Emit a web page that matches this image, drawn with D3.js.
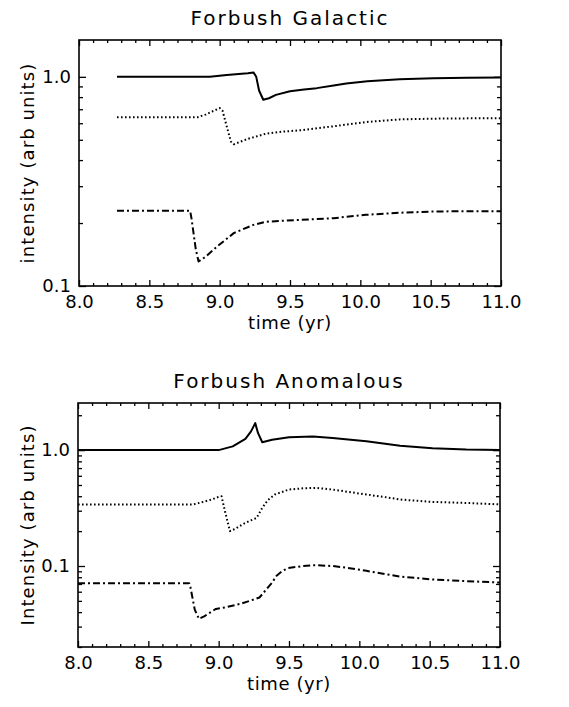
<!DOCTYPE html>
<html><head><meta charset="utf-8">
<script src="https://cdn.jsdelivr.net/npm/d3@7"></script>
<style>
body{margin:0;background:#fff}
text{font-family:"DejaVu Sans",sans-serif;fill:#000}
</style>
</head><body>
<svg id="c" width="569" height="707"></svg>
<script>
// ---- tick labels ----
const xTicks = [8.0, 8.5, 9.0, 9.5, 10.0, 10.5, 11.0];
const xTickLabels = ["8.0", "8.5", "9.0", "9.5", "10.0", "10.5", "11.0"];
const yTicksGal = [0.1, 1.0];
const yTickLabelsGal = ["0.1", "1.0"];
const yTicksAnom = [0.1, 1.0];
const yTickLabelsAnom = ["0.1", "1.0"];

// ---- Forbush Galactic ----
const galSolidT = [8.27, 8.93, 9.05, 9.2, 9.24, 9.26, 9.28, 9.31, 9.35, 9.4, 9.5, 9.6, 9.69, 9.81, 9.9, 10.05, 10.28, 10.52, 10.76, 11.0];
const galSolidV = [1.0, 1.0, 1.02, 1.04, 1.05, 1.0, 0.86, 0.777, 0.79, 0.82, 0.854, 0.87, 0.883, 0.91, 0.93, 0.953, 0.975, 0.985, 0.99, 0.993];
const galDotT = [8.27, 8.84, 8.9, 9.0, 9.02, 9.05, 9.08, 9.1, 9.2, 9.33, 9.45, 9.57, 9.81, 10.04, 10.28, 10.52, 10.76, 11.0];
const galDotV = [0.64, 0.64, 0.66, 0.709, 0.69, 0.58, 0.49, 0.476, 0.505, 0.535, 0.547, 0.555, 0.58, 0.608, 0.626, 0.631, 0.633, 0.633];
const galDashDotT = [8.27, 8.79, 8.8, 8.83, 8.85, 8.9, 8.98, 9.1, 9.24, 9.33, 9.57, 9.81, 10.04, 10.28, 10.52, 10.76, 11.0];
const galDashDotV = [0.229, 0.229, 0.21, 0.15, 0.131, 0.138, 0.154, 0.179, 0.196, 0.203, 0.207, 0.211, 0.219, 0.224, 0.227, 0.228, 0.228];

// ---- Forbush Anomalous ----
const anomSolidT = [8.0, 9.0, 9.1, 9.19, 9.23, 9.26, 9.28, 9.31, 9.38, 9.5, 9.67, 9.81, 10.05, 10.29, 10.52, 10.76, 11.0];
const anomSolidV = [1.0, 1.0, 1.077, 1.25, 1.45, 1.71, 1.4, 1.17, 1.23, 1.29, 1.31, 1.27, 1.19, 1.09, 1.04, 1.01, 1.0];
const anomDotT = [8.0, 8.82, 8.9, 8.95, 9.0, 9.02, 9.05, 9.08, 9.12, 9.17, 9.22, 9.27, 9.31, 9.35, 9.4, 9.5, 9.6, 9.69, 9.81, 9.9, 10.05, 10.2, 10.29, 10.52, 10.76, 11.0];
const anomDotV = [0.34, 0.34, 0.36, 0.375, 0.395, 0.40, 0.28, 0.20, 0.21, 0.229, 0.245, 0.26, 0.318, 0.37, 0.414, 0.457, 0.468, 0.472, 0.457, 0.44, 0.414, 0.39, 0.375, 0.357, 0.35, 0.34];
const anomDashDotT = [8.0, 8.79, 8.8, 8.83, 8.86, 8.9, 8.98, 9.05, 9.15, 9.22, 9.29, 9.34, 9.38, 9.41, 9.45, 9.49, 9.6, 9.69, 9.81, 9.9, 10.05, 10.29, 10.52, 10.76, 11.0];
const anomDashDotV = [0.0711, 0.0711, 0.065, 0.042, 0.035, 0.037, 0.0426, 0.044, 0.047, 0.05, 0.0535, 0.063, 0.072, 0.082, 0.09, 0.0957, 0.1, 0.1016, 0.1, 0.097, 0.0908, 0.081, 0.0766, 0.074, 0.072];

const svg = d3.select("#c");

function zip(t, v) { return t.map((d, i) => ({ t: d, v: v[i] })); }

function panel(cfg) {
  const { left, right, top, bottom } = cfg.box;
  const x = d3.scaleLinear().domain([8.0, 11.0]).range([left, right]);
  const y = d3.scaleLog().domain(cfg.yDomain).range([bottom, top]);
  const g = svg.append("g");

  const xMinor = d3.range(80, 111).map(d => d / 10).filter(d => !xTicks.some(m => Math.abs(m - d) < 1e-6));
  const yMinor = y.ticks().filter(d => !cfg.yTicks.some(m => Math.abs(m - d) < 1e-9));

  function axisGroup(axis, tx, ty) {
    const a = g.append("g").attr("transform", `translate(${tx},${ty})`).call(axis);
    a.select(".domain").remove();
    a.selectAll("line").attr("stroke", "#000").attr("stroke-width", 1.3);
    return a;
  }
  const xb = axisGroup(d3.axisBottom(x).tickValues(xTicks).tickSize(-6).tickPadding(9)
    .tickFormat((d, i) => xTickLabels[i]), 0, bottom);
  xb.selectAll("text").attr("font-size", 18).attr("font-family", "DejaVu Sans").attr("dy", "0.71em");
  axisGroup(d3.axisBottom(x).tickValues(xMinor).tickSize(-3).tickFormat(""), 0, bottom);
  axisGroup(d3.axisTop(x).tickValues(xTicks).tickSize(-6).tickFormat(""), 0, top);
  axisGroup(d3.axisTop(x).tickValues(xMinor).tickSize(-3).tickFormat(""), 0, top);

  const yl = axisGroup(d3.axisLeft(y).tickValues(cfg.yTicks).tickSize(-7).tickPadding(8)
    .tickFormat((d, i) => cfg.yLabels[i]), left, 0);
  yl.selectAll("text").attr("font-size", 18).attr("font-family", "DejaVu Sans");
  axisGroup(d3.axisLeft(y).tickValues(yMinor).tickSize(-4).tickFormat(""), left, 0);
  axisGroup(d3.axisRight(y).tickValues(cfg.yTicks).tickSize(-7).tickFormat(""), right, 0);
  axisGroup(d3.axisRight(y).tickValues(yMinor).tickSize(-4).tickFormat(""), right, 0);

  g.append("rect").attr("x", left).attr("y", top).attr("width", right - left).attr("height", bottom - top)
    .attr("fill", "none").attr("stroke", "#000").attr("stroke-width", 1.6);

  const line = d3.line().x(d => x(d.t)).y(d => y(d.v));
  const styles = [
    { w: 2, dash: null },
    { w: 2, dash: "1.6,2.4" },
    { w: 2, dash: "7,3,2,3" }
  ];
  cfg.series.forEach((s, i) => {
    g.append("path").datum(zip(s[0], s[1])).attr("d", line)
      .attr("fill", "none").attr("stroke", "#000").attr("stroke-width", styles[i].w)
      .attr("stroke-dasharray", styles[i].dash).attr("stroke-linejoin", "round");
  });

  g.append("text").attr("x", (left + right) / 2).attr("y", top - 22).attr("text-anchor", "middle")
    .attr("dominant-baseline", "central").attr("font-size", 20).attr("letter-spacing", 2).text(cfg.title);
  g.append("text").attr("x", (left + right) / 2).attr("y", bottom + 36).attr("text-anchor", "middle")
    .attr("dominant-baseline", "central").attr("font-size", 18).attr("letter-spacing", 0.6).text("time (yr)");
  g.append("text").attr("transform", `translate(27,${(top + bottom) / 2}) rotate(-90)`)
    .attr("text-anchor", "middle").attr("dominant-baseline", "central").attr("font-size", 18)
    .attr("letter-spacing", 1.1).text(cfg.yTitle);
}

panel({
  box: { left: 79, right: 501, top: 40, bottom: 286 },
  yDomain: [0.1, 1.5], yTicks: yTicksGal, yLabels: yTickLabelsGal,
  title: "Forbush Galactic", yTitle: "intensity (arb units)",
  series: [[galSolidT, galSolidV], [galDotT, galDotV], [galDashDotT, galDashDotV]]
});
panel({
  box: { left: 78, right: 500, top: 403, bottom: 647 },
  yDomain: [0.02, 2.55], yTicks: yTicksAnom, yLabels: yTickLabelsAnom,
  title: "Forbush Anomalous", yTitle: "Intensity (arb units)",
  series: [[anomSolidT, anomSolidV], [anomDotT, anomDotV], [anomDashDotT, anomDashDotV]]
});
</script>
</body></html>
